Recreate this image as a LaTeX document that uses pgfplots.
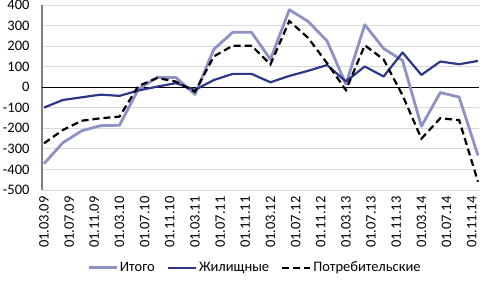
\documentclass[border=0pt]{standalone}
\usepackage{fontspec}
\setmainfont{Carlito}
\usepackage{pgfplots}
\pgfplotsset{compat=1.18}
\definecolor{itogo}{RGB}{142,145,196}
\definecolor{zhil}{RGB}{44,55,138}
\definecolor{gridc}{RGB}{217,217,217}
\begin{document}
\begin{tikzpicture}[font=\fontsize{14.5}{17}\selectfont]
\useasboundingbox (-42pt,-92pt) rectangle (439pt,190pt);
\begin{axis}[
  at={(0pt,0pt)}, anchor=south west,
  scale only axis, width=437pt, height=185pt,
  xmin=-0.32, xmax=69.16,
  ymin=-500, ymax=400,
  ytick={-500,-400,...,400},
  xtick={0,4,...,68},
  xticklabels={01.03.09,01.07.09,01.11.09,01.03.10,01.07.10,01.11.10,01.03.11,01.07.11,01.11.11,01.03.12,01.07.12,01.11.12,01.03.13,01.07.13,01.11.13,01.03.14,01.07.14,01.11.14},
  /pgf/number format/assume math mode=true,
  /pgf/number format/.cd, 1000 sep={}, /pgfplots/.cd,
  x tick label style={rotate=90, anchor=east, font=\fontsize{14.5}{17}\selectfont},
  xticklabel shift=3pt,
  y tick label style={anchor=east, font=\fontsize{14.5}{17}\selectfont},
  yticklabel shift=9pt,
  axis x line*=bottom, axis y line*=left,
  x axis line style={draw=gridc, line width=1pt},
  y axis line style={draw=gray, line width=1.2pt},
  major tick length=0pt,
  ymajorgrids, grid style={gridc, line width=1pt},
  extra y ticks={0}, extra y tick labels={},
  extra y tick style={major grid style={black, line width=0.7pt}},
  legend style={at={(0.487,-0.42)}, anchor=center, draw=none, fill=none,
    legend columns=3, font=\fontsize{14.5}{17}\selectfont,
    /tikz/every even column/.append style={column sep=10pt}},
  legend image code/.code={\draw[#1] (0pt,0pt) -- (28pt,0pt);},
]
\addplot[itogo, line width=2.8pt, line join=round] coordinates {
(0,-372) (3,-270) (6,-212) (9,-187) (12,-185) (15,-10) (18,48) (21,47)
(24,-35) (27,185) (30,267) (33,267) (36,135) (39,377) (42,320) (45,225)
(48,15) (51,304) (54,188) (57,130) (60,-190) (63,-26) (66,-48) (69,-332)};
\addlegendentry{Итого}
\addplot[zhil, line width=2.2pt, line join=round] coordinates {
(0,-99) (3,-62) (6,-49) (9,-36) (12,-42) (15,-16) (18,3) (21,20)
(24,-13) (27,35) (30,65) (33,65) (36,24) (39,55) (42,80) (45,108)
(48,28) (51,101) (54,52) (57,169) (60,60) (63,125) (66,112) (69,128)};
\addlegendentry{Жилищные}
\addplot[black, line width=2.2pt, dash pattern=on 7pt off 4pt] coordinates {
(0,-273) (3,-208) (6,-163) (9,-151) (12,-143) (15,6) (18,45) (21,27)
(24,-22) (27,150) (30,202) (33,202) (36,111) (39,322) (42,240) (45,117)
(48,-14) (51,204) (54,135) (57,-39) (60,-250) (63,-151) (66,-160) (69,-460)};
\addlegendentry{Потребительские}
\end{axis}
\end{tikzpicture}
\end{document}
